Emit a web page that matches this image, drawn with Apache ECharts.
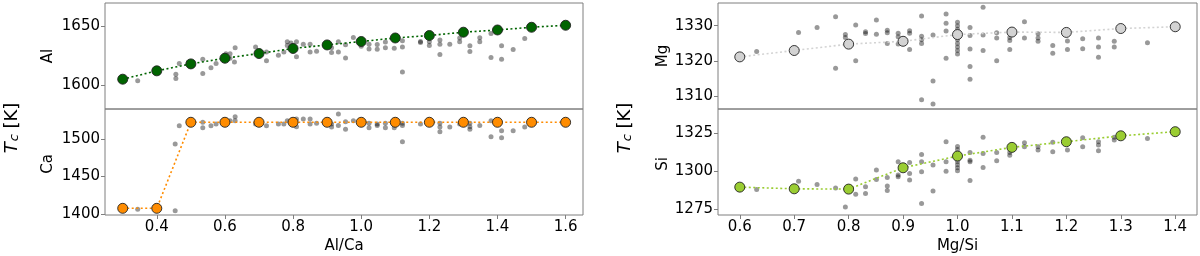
<!DOCTYPE html>
<html>
<head>
<meta charset="utf-8">
<script src="https://cdn.jsdelivr.net/npm/echarts@6/dist/echarts.min.js"></script>
<style>html,body{margin:0;padding:0;background:#fff}#c{width:1200px;height:256px}</style>
</head>
<body>
<div id="c"></div>
<script>
// ---- data ----
const alcaX = [0.3,0.4,0.5,0.6,0.7,0.8,0.9,1.0,1.1,1.2,1.3,1.4,1.5,1.6];
const alTc  = [1605.3,1612.4,1618.3,1623.1,1627.1,1631.4,1634.4,1637.3,1640.3,1642.4,1645.2,1647.1,1649.4,1651.1];
const caTc  = [1407.6,1407.6,1522.3,1522.3,1522.3,1522.3,1522.3,1522.3,1522.3,1522.3,1522.3,1522.3,1522.3,1522.3];
const mgsiX = [0.6,0.7,0.8,0.9,1.0,1.1,1.2,1.3,1.4];
const mgTc  = [1321.2,1323.0,1324.8,1325.6,1327.5,1328.2,1328.1,1329.2,1329.7];
const siTc  = [1289.3,1288.2,1288.0,1302.0,1309.7,1315.4,1319.1,1323.0,1325.7];

const alcaTicks = [0.4,0.6,0.8,1.0,1.2,1.4,1.6];
const mgsiTicks = [0.6,0.7,0.8,0.9,1.0,1.1,1.2,1.3,1.4];
const alTicks = [1600,1650];
const caTicks = [1400,1450,1500];
const mgTicks = [1310,1320,1330];
const siTicks = [1275,1300,1325];

const alStars = [[0.344,1603.9],[0.456,1609.6],[0.456,1605.9],[0.466,1618.6],[0.535,1622.3],[0.535,1610.2],[0.559,1615],[0.574,1618.6],[0.603,1627],[0.615,1623],[0.615,1627],[0.628,1620],[0.63,1631.9],[0.69,1632.6],[0.722,1628.5],[0.722,1620.9],[0.757,1625.6],[0.773,1628.5],[0.783,1637],[0.783,1634],[0.794,1636.1],[0.81,1637],[0.81,1624.3],[0.83,1635],[0.85,1635],[0.85,1628.5],[0.869,1629],[0.913,1632],[0.913,1628],[0.933,1637],[0.933,1628.5],[0.954,1623.4],[0.954,1634.5],[0.977,1640.7],[1.0,1633.3],[1.023,1635],[1.023,1631],[1.047,1634.7],[1.047,1630.7],[1.071,1636.8],[1.071,1632],[1.097,1631.6],[1.121,1638],[1.121,1632.7],[1.121,1611.5],[1.174,1637.4],[1.174,1636.5],[1.2,1637],[1.2,1634],[1.231,1638.5],[1.231,1635],[1.231,1626.3],[1.26,1635],[1.289,1640.2],[1.289,1637],[1.319,1633.6],[1.319,1628.9],[1.348,1640.5],[1.348,1637],[1.381,1644],[1.381,1623.7],[1.412,1633.6],[1.412,1622.3],[1.446,1630.6],[1.48,1639.8]];
const caStars = [[0.344,1406.2],[0.454,1493.3],[0.454,1404.4],[0.466,1517.8],[0.535,1522.2],[0.535,1515.1],[0.559,1517.8],[0.574,1520],[0.615,1524.5],[0.63,1529.8],[0.63,1524.5],[0.69,1520],[0.722,1517.8],[0.757,1520],[0.773,1520],[0.783,1524.5],[0.81,1526.7],[0.81,1516.4],[0.83,1526.7],[0.85,1526.7],[0.85,1520],[0.869,1521],[0.913,1520],[0.913,1516],[0.933,1533.3],[0.933,1518],[0.954,1523],[0.954,1513],[0.977,1524.5],[1.023,1521],[1.023,1515],[1.047,1520],[1.047,1518],[1.071,1521],[1.071,1515],[1.097,1515],[1.121,1521],[1.121,1518],[1.121,1496.4],[1.174,1520],[1.231,1521],[1.231,1516],[1.231,1509.8],[1.26,1516],[1.289,1520],[1.319,1521],[1.319,1516.5],[1.319,1513],[1.348,1518],[1.381,1524.5],[1.381,1503],[1.412,1511],[1.412,1501.7],[1.446,1511],[1.48,1516]];
const mgStars = [[0.631,1322.7],[0.708,1328.1],[0.742,1329.5],[0.776,1332.5],[0.776,1318],[0.794,1327.5],[0.794,1326.7],[0.813,1330.2],[0.813,1320.1],[0.831,1328.3],[0.831,1327.8],[0.851,1331.6],[0.851,1327.6],[0.871,1328.7],[0.871,1328],[0.871,1325],[0.891,1327.9],[0.891,1326.9],[0.891,1324.8],[0.912,1328.6],[0.912,1327.9],[0.912,1323.3],[0.934,1332.7],[0.934,1327],[0.934,1326],[0.934,1325],[0.934,1309.1],[0.955,1327.4],[0.955,1314.4],[0.955,1307.9],[0.979,1333.3],[0.979,1330.7],[0.979,1328.5],[0.979,1320.8],[1.0,1331],[1.0,1330],[1.0,1329],[1.0,1328],[1.0,1326],[1.0,1325],[1.0,1324],[1.0,1323],[1.0,1322],[1.023,1329.5],[1.023,1327.2],[1.023,1323.4],[1.023,1318.5],[1.023,1314.9],[1.047,1335.2],[1.047,1327.4],[1.047,1323],[1.072,1328],[1.072,1326.5],[1.072,1320.1],[1.096,1326.7],[1.096,1325.8],[1.096,1323.3],[1.123,1331.1],[1.123,1326.5],[1.148,1327.7],[1.148,1326.5],[1.148,1325.6],[1.175,1324.4],[1.175,1322.2],[1.202,1325.7],[1.202,1323.3],[1.23,1326.3],[1.23,1323.5],[1.259,1326.5],[1.259,1324],[1.259,1321.1],[1.288,1325.6],[1.288,1324],[1.349,1325.2]];
const siStars = [[0.631,1287.8],[0.708,1293.2],[0.742,1291],[0.776,1288.8],[0.794,1276.3],[0.813,1294.7],[0.813,1284.7],[0.831,1289.5],[0.831,1285.1],[0.851,1300.5],[0.851,1294.3],[0.871,1295.7],[0.871,1290.1],[0.871,1287.1],[0.891,1305.9],[0.891,1297.2],[0.891,1296.1],[0.912,1305.5],[0.912,1298.3],[0.912,1293.9],[0.934,1310.8],[0.934,1305.9],[0.934,1299.4],[0.934,1278.5],[0.955,1303.8],[0.955,1286.8],[0.979,1319.1],[0.979,1305.9],[0.979,1299.8],[1.0,1316],[1.0,1314],[1.0,1311],[1.0,1308],[1.0,1306],[1.0,1304],[1.0,1302],[1.0,1300],[1.023,1312.1],[1.023,1307],[1.023,1305.9],[1.023,1293.7],[1.047,1322],[1.047,1311.4],[1.047,1302.2],[1.072,1312.1],[1.072,1306.6],[1.096,1315.1],[1.096,1312.1],[1.096,1310.3],[1.123,1318.4],[1.123,1315.8],[1.148,1315.8],[1.148,1313.6],[1.175,1318.7],[1.175,1312.5],[1.202,1313.6],[1.23,1321.7],[1.23,1315.8],[1.259,1319.1],[1.259,1316.9],[1.259,1313.2],[1.288,1322],[1.288,1320.2],[1.349,1321.3]];

// ---- chart ----
const FONT = 'DejaVu Sans';
const SPINE = '#7f7f7f';
const chart = echarts.init(document.getElementById('c'), null, {renderer: 'canvas'});

function grid(left, top, width) {
  return {left: left, top: top, width: width, height: 106, show: true,
          borderColor: SPINE, borderWidth: 1, backgroundColor: 'transparent', containLabel: false};
}
function xAx(gi, min, max, ticks, bottom, name) {
  return {
    type: 'value', gridIndex: gi, min: min, max: max,
    axisLine: {show: false}, splitLine: {show: false},
    axisTick: {show: bottom, length: 4, lineStyle: {color: SPINE}, customValues: ticks},
    axisLabel: {show: bottom, customValues: ticks, formatter: v => v.toFixed(1),
                fontFamily: FONT, fontSize: 15, color: '#000', margin: 5},
    name: bottom ? name : '', nameLocation: 'middle', nameGap: 24,
    nameTextStyle: {fontFamily: FONT, fontSize: 15, color: '#000'}
  };
}
function yAx(gi, min, max, ticks) {
  return {
    type: 'value', gridIndex: gi, min: min, max: max,
    axisLine: {show: false}, splitLine: {show: false},
    axisTick: {show: true, length: 4, lineStyle: {color: SPINE}, customValues: ticks},
    axisLabel: {customValues: ticks, formatter: v => String(Math.round(v)),
                fontFamily: FONT, fontSize: 15, color: '#000', margin: 5}
  };
}
function stars(i, data) {
  return {type: 'scatter', xAxisIndex: i, yAxisIndex: i, data: data, symbolSize: 5,
          itemStyle: {color: 'rgba(0,0,0,0.5)'}, silent: true, z: 2};
}
function mean(i, xs, ys, color) {
  return {type: 'line', xAxisIndex: i, yAxisIndex: i, data: xs.map((x, k) => [x, ys[k]]),
          symbol: 'circle', symbolSize: 10, showSymbol: true,
          lineStyle: {color: color, width: 1.6, type: [2, 2.5]},
          itemStyle: {color: color, borderColor: '#222', borderWidth: 0.9},
          z: 5, animation: false};
}
function vtext(x, y, txt, size) {
  return {type: 'text', x: x, y: y, rotation: Math.PI / 2,
          style: {text: txt, fontFamily: FONT, fontSize: size, fill: '#000',
                  align: 'center', verticalAlign: 'middle'}};
}
function tcLabel(x, y) {
  return {type: 'text', x: x, y: y, rotation: Math.PI / 2,
          style: {text: '{t|T}{s|c} [K]', fontFamily: FONT, fontSize: 18, fill: '#000',
                  align: 'center', verticalAlign: 'middle',
                  rich: {t: {fontFamily: FONT, fontSize: 18, fontStyle: 'italic', fill: '#000'},
                         s: {fontFamily: FONT, fontSize: 13, fontStyle: 'italic', fill: '#000',
                             verticalAlign: 'bottom', padding: [6, 0, 0, 1]}}}};
}

const option = {
  animation: false,
  grid: [grid(105, 3, 478), grid(105, 109, 478), grid(718, 3, 479), grid(718, 109, 479)],
  xAxis: [
    xAx(0, 0.248, 1.651, alcaTicks, false, ''),
    xAx(1, 0.248, 1.651, alcaTicks, true, 'Al/Ca'),
    xAx(2, 0.56, 1.44, mgsiTicks, false, ''),
    xAx(3, 0.56, 1.44, mgsiTicks, true, 'Mg/Si')
  ],
  yAxis: [
    yAx(0, 1580, 1670, alTicks),
    yAx(1, 1398.7, 1540, caTicks),
    yAx(2, 1306.5, 1336.4, mgTicks),
    yAx(3, 1271, 1340.6, siTicks)
  ],
  series: [
    stars(0, alStars), stars(1, caStars), stars(2, mgStars), stars(3, siStars),
    mean(0, alcaX, alTc, '#006400'),
    mean(1, alcaX, caTc, '#ff8c00'),
    mean(2, mgsiX, mgTc, '#d3d3d3'),
    mean(3, mgsiX, siTc, '#9acd32')
  ],
  graphic: [
    vtext(48, 56, 'Al', 15), vtext(48, 164, 'Ca', 15),
    vtext(663, 56, 'Mg', 15), vtext(663, 164, 'Si', 15),
    tcLabel(12, 128), tcLabel(625, 128)
  ]
};
chart.setOption(option);
</script>
</body>
</html>
